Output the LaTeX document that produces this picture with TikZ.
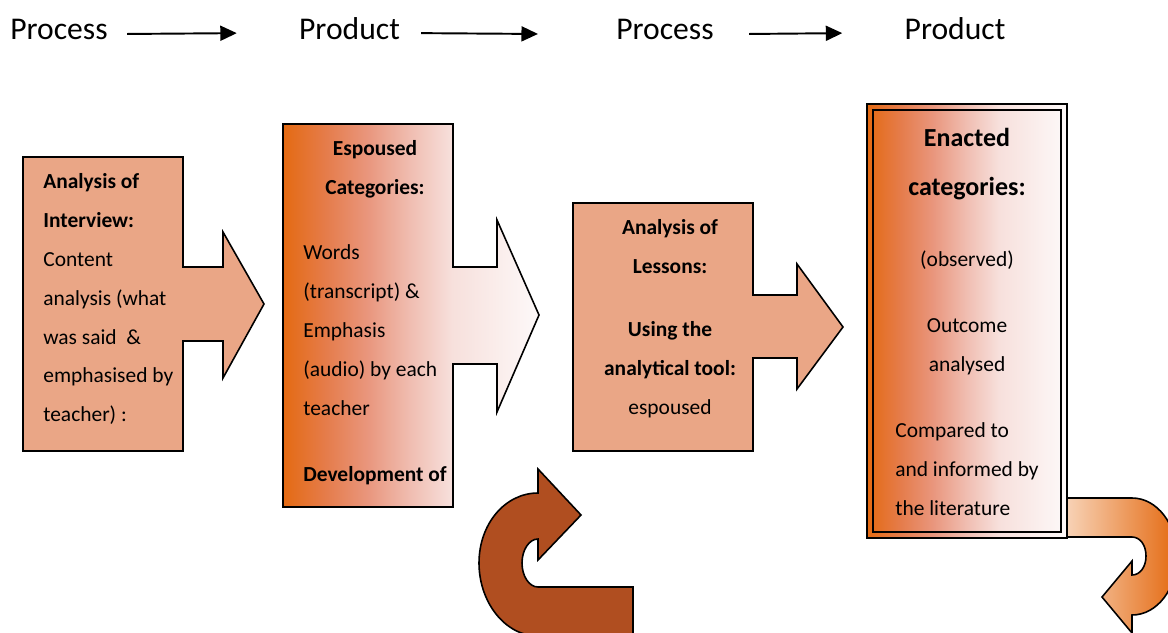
\documentclass[tikz,border=0pt]{standalone}
\usepackage{fontspec}
\setmainfont{Carlito}
\usetikzlibrary{arrows.meta,calc}

\definecolor{boxfill}{RGB}{234,166,134}
\definecolor{deeporange}{RGB}{228,106,18}
\definecolor{rust}{RGB}{176,78,32}
\definecolor{peach}{RGB}{248,213,186}
\definecolor{fadeA}{RGB}{229,124,75}
\definecolor{fadeB}{RGB}{233,150,125}
\definecolor{fadeC}{RGB}{240,190,178}
\definecolor{fadeD}{RGB}{247,224,220}
\definecolor{fadeE}{RGB}{253,249,249}
\pgfdeclarehorizontalshading{orangefade}{100bp}{color(0bp)=(deeporange); color(25bp)=(deeporange);
  color(33.4bp)=(fadeA); color(41.5bp)=(fadeB); color(50bp)=(fadeC); color(58bp)=(fadeD);
  color(75bp)=(fadeE); color(100bp)=(fadeE)}

\begin{document}
\begin{tikzpicture}[
    x=0.02cm, y=-0.02cm,
    title/.style={inner sep=0pt, anchor=base, font=\fontsize{18}{22}\selectfont},
    body/.style={inner sep=0pt, font=\fontsize{12.2}{22.1}\selectfont},
    heading/.style={inner sep=0pt, anchor=base, align=center, font=\fontsize{14.8}{27.6}\selectfont\bfseries},
    outline/.style={draw=black, line width=0.9pt},
    flow/.style={line width=1.1pt, -{Triangle[length=0.33cm, width=0.3cm]}},
    fade/.style={shading=orangefade}
  ]
  \useasboundingbox (0,0) rectangle (1168,632);
  \clip (0,0) rectangle (1168,632);

  % process / product row
  \node[title] (proc1) at (59,39) {Process};
  \node[title] (prod1) at (349.5,39) {Product};
  \node[title] (proc2) at (665,39) {Process};
  \node[title] (prod2) at (955,39) {Product};
  \draw[flow] ($(proc1.east)+(19,5)$) -- ($(prod1.west)+(-62,5)$);
  \draw[flow] ($(prod1.east)+(21,5)$) -- ($(proc2.west)+(-78,5)$);
  \draw[flow] ($(proc2.east)+(35,5)$) -- ($(prod2.west)+(-62,5)$);

  % arrow boxes
  \path[outline, fill=boxfill] (23,157) -- (183,157) -- (183,267) -- (223,267) -- (223,232)
    -- (264,304) -- (223,378) -- (223,341) -- (183,341) -- (183,451) -- (23,451) -- cycle;
  \path[outline, fade] (283,124) -- (453,124) -- (453,267) -- (497,267) -- (497,220)
    -- (539,315) -- (497,412) -- (497,364) -- (453,364) -- (453,507) -- (283,507) -- cycle;
  \path[outline, fill=boxfill] (573,203) -- (753,203) -- (753,295) -- (797,295) -- (797,264)
    -- (843,327) -- (797,389) -- (797,358) -- (753,358) -- (753,451) -- (573,451) -- cycle;

  % turning arrows
  \path[outline, fill=rust] (581,515) -- (538,560) -- (538,539)
    .. controls (529,539) and (522,550) .. (522,563)
    .. controls (522,576) and (529,587) .. (538,587) -- (633,587) -- (633,636) -- (538,636)
    .. controls (505,636) and (479,602) .. (479,563)
    .. controls (479,524) and (505,493) .. (538,493) -- (538,469) -- cycle;
  \path[outline, left color=peach, right color=deeporange] (1064,498) -- (1132,498)
    .. controls (1157,498) and (1177,524) .. (1177,556.5)
    .. controls (1177,589) and (1157,615) .. (1132,615) -- (1132,633) -- (1102,597)
    -- (1132,561) -- (1132,575)
    .. controls (1140,575) and (1146,567) .. (1146,556)
    .. controls (1146,545) and (1140,537) .. (1132,537) -- (1064,537) -- cycle;

  % enacted box
  \shade[fade] (867,104) rectangle (1067,538);
  \draw[line width=0.9pt] (867,104) rectangle (1067,538);
  \draw[line width=1.4pt] (873,110) rectangle (1061,532);

  % texts
  \node[body, anchor=base west, align=left] (interview) at (43,421.7)
    {\textbf{Analysis of}\\\textbf{Interview:}\\Content\\analysis (what\\was said \ \&\\emphasised by\\teacher) :};
  \node[body, anchor=base, align=center] (espoused) at (375,194)
    {\textbf{Espoused}\\\textbf{Categories:}};
  \node[body, anchor=base west, align=left] (words) at (303,415)
    {Words\\(transcript) \&\\Emphasis\\(audio) by each\\teacher};
  \node[body, anchor=base west] (develop) at (303,481.7) {\textbf{Development of}};
  \node[body, anchor=base, align=center] (lessons) at (670,273)
    {\textbf{Analysis of}\\\textbf{Lessons:}};
  \node[body, anchor=base, align=center] (tool) at (670,414)
    {\textbf{Using the}\\\textbf{analytical tool:}\\espoused};
  \node[heading] (enacted) at (967,195) {Enacted\\categories:};
  \node[body, anchor=base] (observed) at (967,266.7) {(observed)};
  \node[body, anchor=base, align=center] (outcome) at (967,371) {Outcome\\analysed};
  \node[body, anchor=base west, align=left] (compared) at (895,515)
    {Compared to\\and informed by\\the literature};
\end{tikzpicture}
\end{document}
